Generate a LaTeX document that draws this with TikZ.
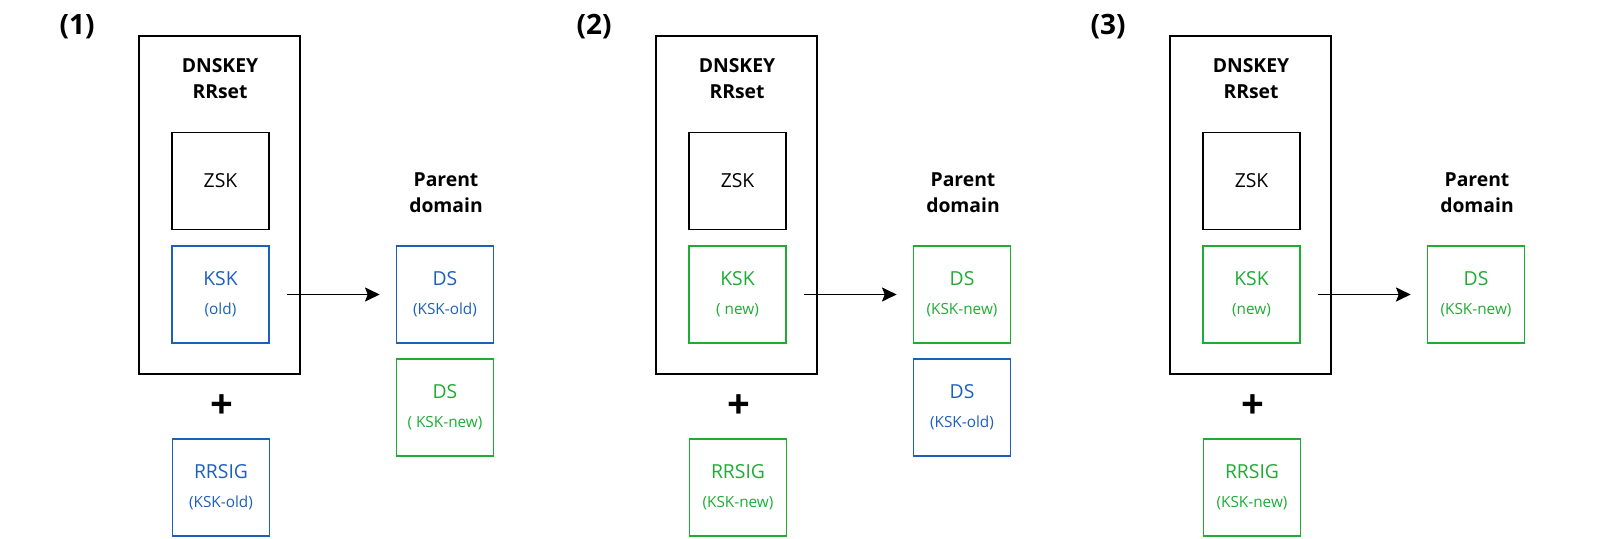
\documentclass[tikz,border=0pt]{standalone}
\usepackage{fontspec}
\setmainfont{Open Sans}
\usetikzlibrary{arrows.meta}
\definecolor{kblue}{RGB}{28,96,188}
\definecolor{kgreen}{RGB}{30,172,52}
\tikzset{
  keybox/.style={draw, line width=1.2pt, minimum width=72.75pt, minimum height=72.75pt, inner sep=0pt, align=center, font=\fontsize{14.5}{22}\selectfont},
  blu/.style={keybox, draw=kblue, text=kblue},
  grn/.style={keybox, draw=kgreen, text=kgreen},
  outer/.style={draw, line width=1.25pt, minimum width=120.75pt, minimum height=253.5pt, inner sep=0pt},
  heading/.style={font=\fontsize{14.5}{19.5}\selectfont\bfseries, align=center},
  plabel/.style={font=\fontsize{21}{24}\selectfont\bfseries},
  plus/.style={font=\fontsize{30}{30}\selectfont\bfseries},
  conn/.style={line width=1.4pt, -{Stealth[length=11pt,width=10.5pt,inset=2pt]}, shorten <=12.75pt, shorten >=12pt}
}
\newcommand{\sub}[1]{\\{\fontsize{11.5}{12}\selectfont #1}}
\begin{document}
\begin{tikzpicture}[x=0.75pt,y=-0.75pt]
\useasboundingbox (0,0) rectangle (1600,539);
\foreach \i/\dx/\kskc/\kskt/\dsac/\dsat/\rrc/\rrt in {
  1/0/blu/(old)/blu/(KSK-old)/blu/(KSK-old),
  2/517/grn/( new)/grn/(KSK-new)/grn/(KSK-new),
  3/1031/grn/(new)/grn/(KSK-new)/grn/(KSK-new)}{
\begin{scope}[xshift=\dx*0.75pt]
  \node[plabel] (lab\i) at (77,27) {(\i)};
  \node[outer] (rr\i) at (219.5,205) {};
  \node[heading] (hd\i) at (220,79) {DNSKEY\\RRset};
  \node[keybox] (zsk\i) at (220.5,181) {ZSK};
  \node[\kskc] (ksk\i) at (220.5,294.5) {KSK\sub{\kskt}};
  \node[heading] (pd\i) at (446,193) {Parent\\domain};
  \node[\dsac] (dsa\i) at (445,294.5) {DS\sub{\dsat}};
  \node[plus] (pl\i) at (222,407) {+};
  \node[\rrc] (rs\i) at (221,487.5) {RRSIG\sub{\rrt}};
  \draw[conn] (ksk\i) -- (dsa\i);
\end{scope}
}
\node[grn] (dsb1) at (445,407.5) {DS\sub{( KSK-new)}};
\node[blu] (dsb2) at (962,407.5) {DS\sub{(KSK-old)}};
\end{tikzpicture}
\end{document}
